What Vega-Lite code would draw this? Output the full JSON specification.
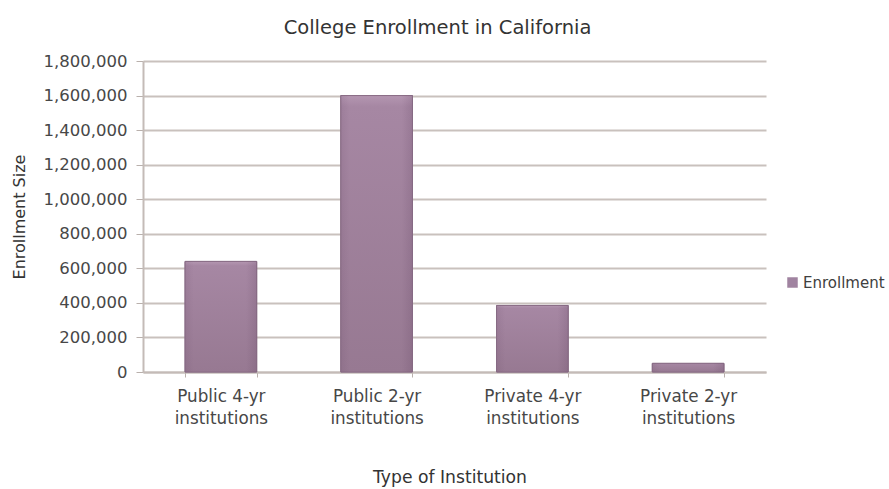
{
  "$schema": "https://vega.github.io/schema/vega-lite/v6.json",
  "width": 623,
  "height": 311,
  "autosize": {"type": "none"},
  "padding": {"left": 143, "top": 61, "right": 123, "bottom": 117},
  "background": "#ffffff",
  "config": {
    "view": {"stroke": null},
    "font": "DejaVu Sans"
  },
  "title": {
    "text": "College Enrollment in California",
    "font": "DejaVu Sans",
    "fontSize": 19.5,
    "fontWeight": "normal",
    "color": "#333333",
    "anchor": "middle",
    "frame": "group",
    "baseline": "alphabetic",
    "offset": 27.5,
    "dx": -17,
    "dy": 27.5
  },
  "data": {
    "values": [
      {"Type": "Public 4-yr institutions", "Enrollment": 640000, "Series": "Enrollment"},
      {"Type": "Public 2-yr institutions", "Enrollment": 1600000, "Series": "Enrollment"},
      {"Type": "Private 4-yr institutions", "Enrollment": 385000, "Series": "Enrollment"},
      {"Type": "Private 2-yr institutions", "Enrollment": 50000, "Series": "Enrollment"}
    ]
  },
  "encoding": {
    "x": {
      "field": "Type",
      "type": "nominal",
      "sort": null,
      "scale": {"paddingInner": 0.54, "paddingOuter": 0.27},
      "axis": {
        "title": "Type of Institution",
        "titleFont": "DejaVu Sans",
        "titleFontSize": 17.2,
        "titleFontWeight": "normal",
        "titleColor": "#333333",
        "titleBaseline": "alphabetic",
        "titleY": 110.7,
        "titleX": 306.5,
        "labelAngle": 0,
        "labelFont": "DejaVu Sans",
        "labelFontSize": 16.8,
        "labelColor": "#474747",
        "labelLineHeight": 21.5,
        "labelBaseline": "alphabetic",
        "labelPadding": 24.5,
        "labelExpr": "split(replace(datum.label, ' institutions', '|institutions'), '|')",
        "tickBand": "extent",
        "tickSize": 5,
        "tickColor": "#b9b0ac",
        "tickWidth": 1,
        "domainColor": "#c4bbb7",
        "domainWidth": 2,
        "grid": false
      }
    },
    "y": {
      "field": "Enrollment",
      "type": "quantitative",
      "scale": {"domain": [0, 1800000], "nice": false},
      "axis": {
        "title": "Enrollment Size",
        "titleFont": "DejaVu Sans",
        "titleFontSize": 16,
        "titleFontWeight": "normal",
        "titleColor": "#333333",
        "titleBaseline": "alphabetic",
        "titleX": -119,
        "titleY": 155.5,
        "titleAngle": -90,
        "values": [0, 200000, 400000, 600000, 800000, 1000000, 1200000, 1400000, 1600000, 1800000],
        "format": ",.0f",
        "labelFont": "DejaVu Sans",
        "labelFontSize": 16.5,
        "labelColor": "#474747",
        "labelPadding": 9,
        "tickSize": 7,
        "tickColor": "#b9b0ac",
        "domainColor": "#c4bbb7",
        "domainWidth": 2,
        "grid": true,
        "gridColor": "#c9c1bd",
        "gridWidth": 2
      }
    }
  },
  "layer": [
    {
      "mark": {"type": "bar", "stroke": "#8a6e87", "strokeWidth": 1},
      "encoding": {
        "color": {
          "field": "Series",
          "type": "nominal",
          "scale": {"range": ["#a083a0"]},
          "legend": {
            "title": null,
            "orient": "none",
            "legendX": 642,
            "legendY": 214,
            "symbolType": "square",
            "symbolSize": 110,
            "symbolStrokeWidth": 0,
            "labelFont": "DejaVu Sans",
            "labelFontSize": 15,
            "labelColor": "#404040",
            "labelOffset": 3
          }
        }
      }
    },
    {
      "mark": {
        "type": "bar",
        "stroke": "#8a6e87",
        "strokeWidth": 1,
        "color": {
          "gradient": "linear",
          "x1": 0, "y1": 0, "x2": 0, "y2": 1,
          "stops": [
            {"offset": 0, "color": "#b496b1"},
            {"offset": 0.04, "color": "#a687a3"},
            {"offset": 1, "color": "#977992"}
          ]
        }
      }
    },
    {
      "mark": {
        "type": "bar",
        "strokeWidth": 0,
        "color": {
          "gradient": "linear",
          "x1": 0, "y1": 0, "x2": 1, "y2": 0,
          "stops": [
            {"offset": 0, "color": "rgba(90,60,90,0.12)"},
            {"offset": 0.12, "color": "rgba(90,60,90,0)"},
            {"offset": 0.85, "color": "rgba(90,60,90,0)"},
            {"offset": 1, "color": "rgba(90,60,90,0.18)"}
          ]
        }
      }
    }
  ]
}
